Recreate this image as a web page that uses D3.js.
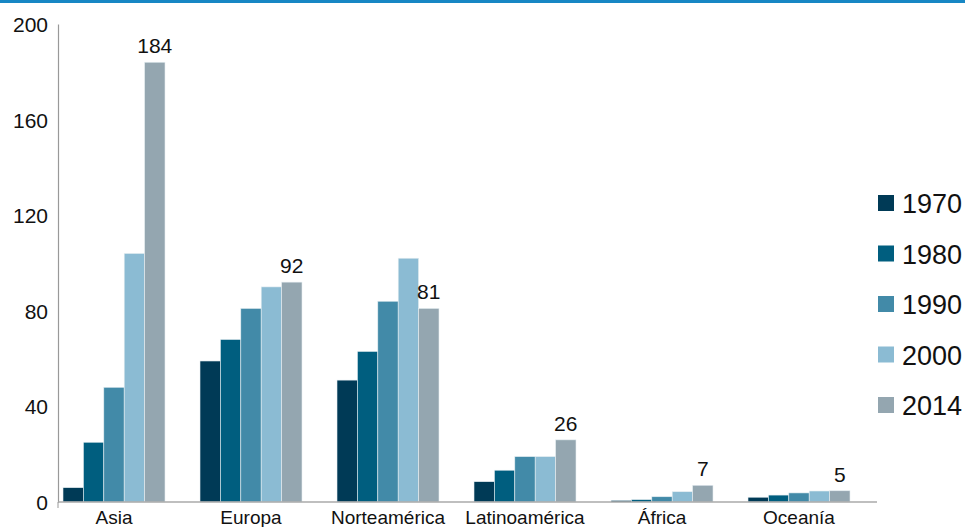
<!DOCTYPE html>
<html><head><meta charset="utf-8">
<script src="https://cdn.jsdelivr.net/npm/d3@7"></script>
<style>body{margin:0;background:#fff}svg{display:block;font-family:"Liberation Sans",Arial,sans-serif}</style>
</head><body>
<svg id="c" width="965" height="527"></svg>
<script>
const categories = ["Asia","Europa","Norteamérica","Latinoamérica","África","Oceanía"];
const seriesNames = ["1970","1980","1990","2000","2014"];
const v1970 = [6, 59, 51, 8.5, 0.7, 2];
const v1980 = [25, 68, 63, 13.3, 1, 2.9];
const v1990 = [48, 81, 84, 19, 2.2, 3.8];
const v2000 = [104, 90, 102, 19, 4.3, 4.6];
const v2014 = [184, 92, 81, 26, 7, 4.7];
const yTicks = [0, 40, 80, 120, 160, 200];
const colors = ["#003a56","#005e7f","#428aa8","#8bbbd3","#94a6b0"];
const series = [v1970, v1980, v1990, v2000, v2014];

const svg = d3.select("#c");
svg.append("rect").attr("x",0).attr("y",0).attr("width",965).attr("height",3).attr("fill","#1787c4");

const y = d3.scaleLinear().domain([0,200]).range([502,24]);
const x0 = d3.scaleBand().domain(categories).range([45.5,867.5]).paddingInner(35/137).paddingOuter(17.5/137);
const x1 = d3.scaleBand().domain(seriesNames).range([0,x0.bandwidth()]);

// bars
categories.forEach((c,ci)=>{
  const g = svg.append("g").attr("transform",`translate(${x0(c)},0)`);
  seriesNames.forEach((s,si)=>{
    const v = series[si][ci];
    g.append("rect").attr("x",x1(s)).attr("width",x1.bandwidth())
      .attr("y",y(v)).attr("height",y(0)-y(v))
      .attr("fill",colors[si]).attr("stroke","#e6eef2").attr("stroke-width",0.6);
  });
  const v = v2014[ci];
  g.append("text").attr("x",x1("2014")+x1.bandwidth()/2).attr("y",y(v)-9)
    .attr("text-anchor","middle").attr("font-size",21).attr("fill","#111").text(Math.round(v));
});

// y axis
const ya = d3.axisLeft(y).tickValues(yTicks).tickSize(0).tickPadding(10);
const yg = svg.append("g").attr("transform","translate(58,0)").call(ya);
yg.select(".domain").attr("stroke","#999").attr("stroke-width",1.2);
yg.selectAll("text").attr("font-size",21).attr("fill","#111").attr("font-family","Liberation Sans, Arial, sans-serif").attr("dy","0.36em");
yg.selectAll(".tick line").remove();

// x axis
svg.append("line").attr("x1",58).attr("x2",877).attr("y1",y(0)).attr("y2",y(0)).attr("stroke","#aaa").attr("stroke-width",1.5);
svg.append("line").attr("x1",58).attr("x2",58).attr("y1",y(0)).attr("y2",y(0)+6).attr("stroke","#999");
svg.append("g").selectAll("text").data(categories).join("text")
  .attr("x",d=>x0(d)+x0.bandwidth()/2).attr("y",524)
  .attr("text-anchor","middle").attr("font-size",19).attr("fill","#111").text(d=>d);

// legend
const lg = svg.append("g");
seriesNames.forEach((s,i)=>{
  const cy = 203 + i*50.5;
  lg.append("rect").attr("x",878).attr("y",cy-8).attr("width",16).attr("height",16).attr("fill",colors[i]);
  lg.append("text").attr("x",902).attr("y",cy+10).attr("font-size",27).attr("fill","#111").text(s);
});
</script>
</body></html>
